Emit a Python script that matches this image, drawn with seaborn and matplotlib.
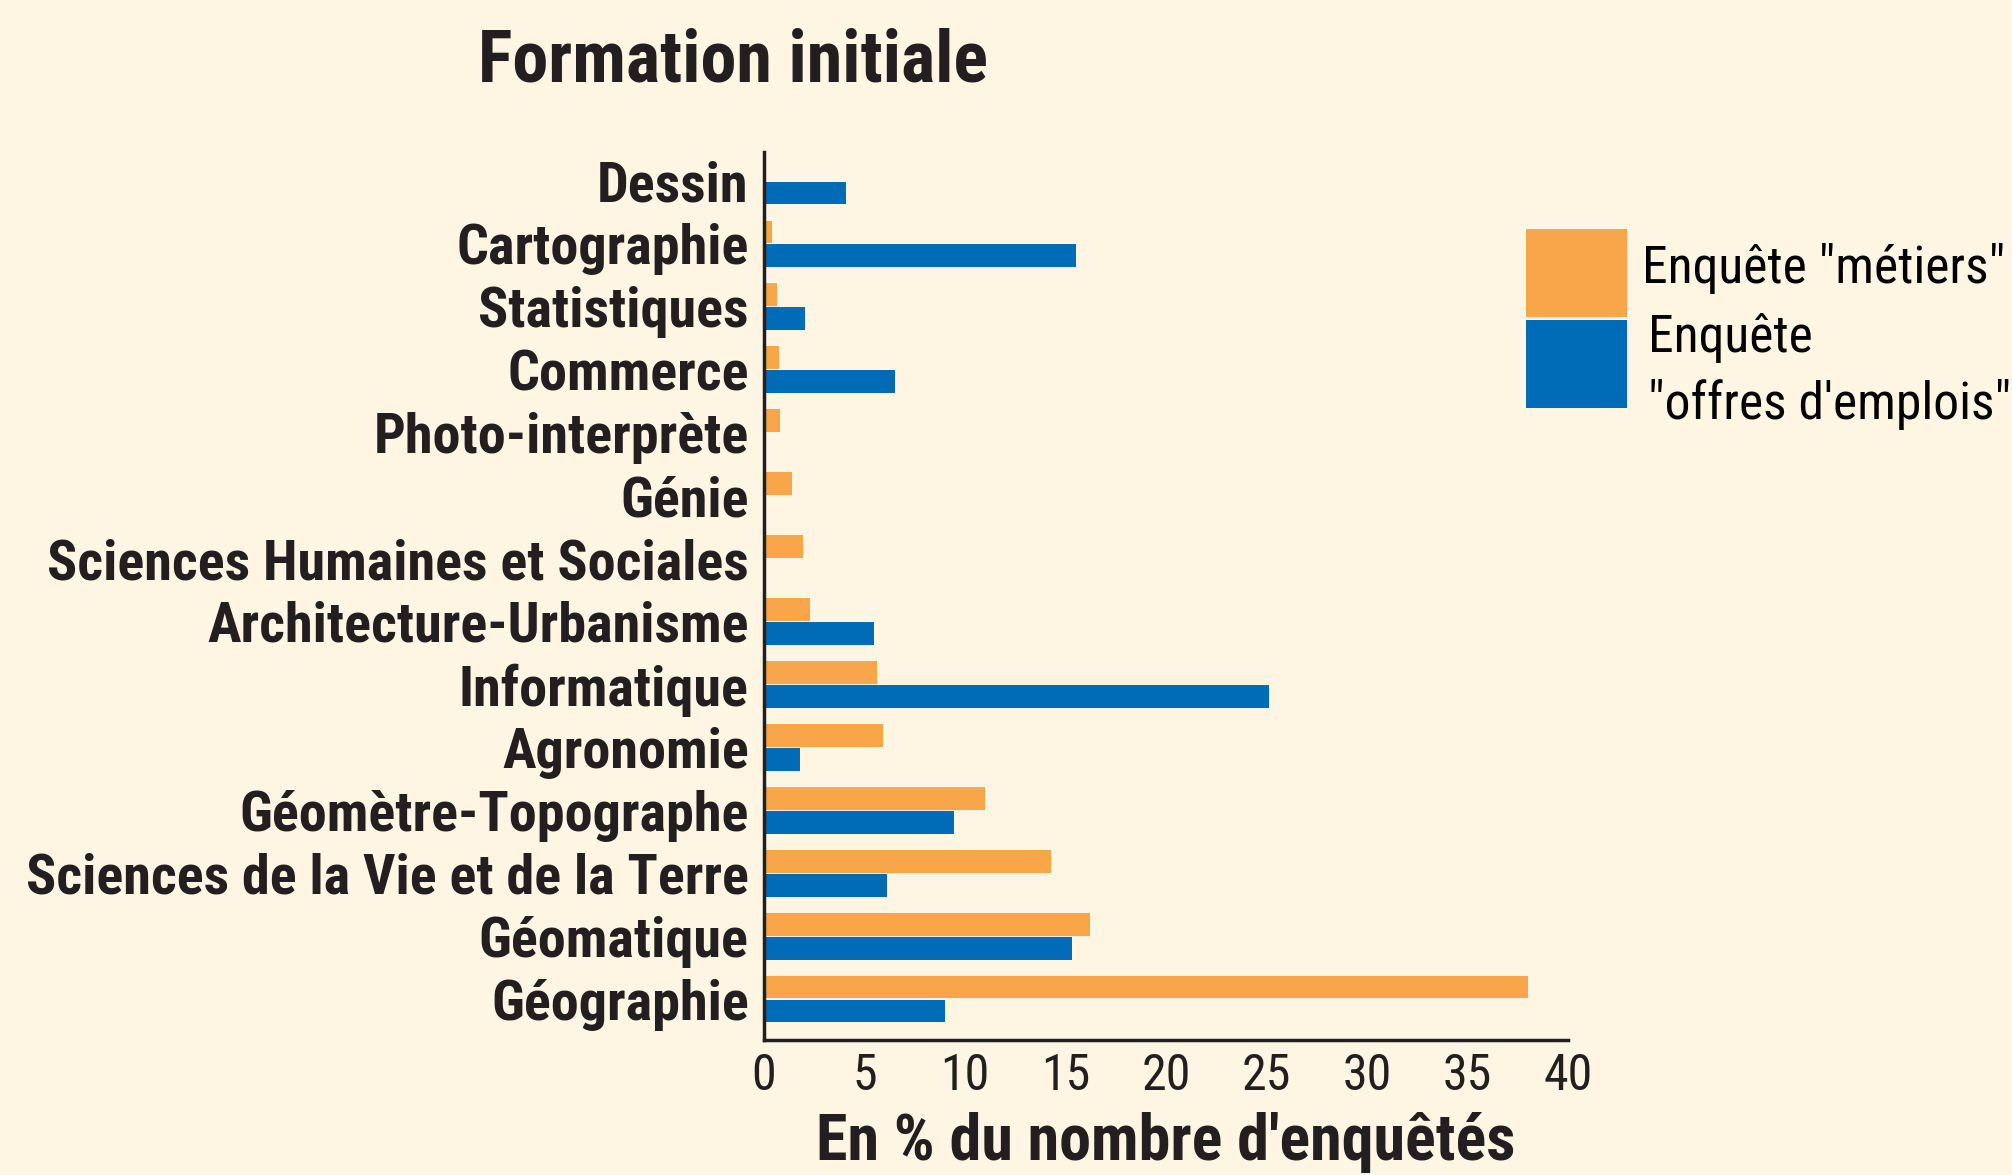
import matplotlib
matplotlib.use("Agg")
import matplotlib.pyplot as plt
from matplotlib import font_manager
from matplotlib.patches import Rectangle
import seaborn as sns
import pandas as pd

categories = ["Dessin", "Cartographie", "Statistiques", "Commerce", "Photo-interprète",
              "Génie", "Sciences Humaines et Sociales", "Architecture-Urbanisme",
              "Informatique", "Agronomie", "Géomètre-Topographe",
              "Sciences de la Vie et de la Terre", "Géomatique", "Géographie"]
metiers = [0, 0.4, 0.65, 0.75, 0.8, 1.4, 1.95, 2.3, 5.6, 5.9, 11.0, 14.3, 16.2, 38.0]
offres = [4.1, 15.5, 2.05, 6.5, 0, 0, 0, 5.45, 25.1, 1.8, 9.45, 6.1, 15.3, 9.0]
series_names = ['Enquête "métiers"', 'Enquête "offres d\'emplois"']
xticks = [0, 5, 10, 15, 20, 25, 30, 35, 40]

BG = "#FEF5E2"
ORANGE = "#F9A54A"
BLUE = "#006BB6"
INK = "#231F20"

avail = {f.name for f in font_manager.fontManager.ttflist}
narrow = "DejaVu Sans"
for cand in ["Liberation Sans Narrow", "Roboto Condensed", "Open Sans Condensed",
             "DejaVu Sans Condensed", "Liberation Sans"]:
    if cand in avail:
        narrow = cand
        break

sns.set_theme(style="white")
plt.rcParams["font.family"] = [narrow, "DejaVu Sans"]

df = pd.DataFrame({
    "cat": categories * 2,
    "val": metiers + offres,
    "serie": [series_names[0]] * len(categories) + [series_names[1]] * len(categories),
})

W, H = 2012, 1175
fig = plt.figure(figsize=(W / 100, H / 100), dpi=100, facecolor=BG)
renderer = fig.canvas.get_renderer()


def fit_size(text, target_px, weight="normal", base=40):
    t = fig.text(0, 0, text, fontsize=base, fontweight=weight)
    w = t.get_window_extent(renderer).width
    t.remove()
    return base * target_px / w


lab_fs = fit_size("Sciences de la Vie et de la Terre", 722, "bold")
title_fs = fit_size("Formation initiale", 509, "bold")
xlab_fs = fit_size("En % du nombre d'enquêtés", 699, "bold")
leg_fs = min(fit_size(series_names[0], 363), 40)
tick_fs = min(fit_size("40", 50), 36)

ax = fig.add_axes([764 / W, 1 - 1040 / H, (1568 - 764) / W, (1040 - 152) / H])
ax.set_facecolor(BG)

sns.barplot(data=df, y="cat", x="val", hue="serie", order=categories,
            hue_order=series_names, palette=[ORANGE, BLUE], orient="h",
            width=0.762, gap=0.05, linewidth=0, edgecolor="none",
            saturation=1, legend=False, ax=ax)

ax.set_xlim(0, 40)
ax.set_ylim(13.65, -0.46)
ax.set_xticks(xticks)
ax.set_xticklabels([str(t) for t in xticks], fontsize=tick_fs)
ax.set_yticks(range(len(categories)))
ax.set_yticklabels(categories, fontsize=lab_fs, fontweight="bold", color=INK)
ax.tick_params(axis="x", direction="inout", length=16, width=2, color=INK,
               pad=1, labelcolor=INK)
ax.tick_params(axis="y", length=0, pad=11)
ax.set_ylabel("")
ax.set_xlabel("En % du nombre d'enquêtés", fontsize=xlab_fs, fontweight="bold",
              color=INK, labelpad=8)

for s in ["top", "right"]:
    ax.spines[s].set_visible(False)
for s in ["left", "bottom"]:
    ax.spines[s].set_color(INK)
    ax.spines[s].set_linewidth(2.5)

fig.text(733 / W, 1 - 62 / H, "Formation initiale", fontsize=title_fs,
         fontweight="bold", color=INK, ha="center", va="center")

# legend
fig.patches.append(Rectangle((1526 / W, 1 - 317 / H), 101 / W, 88 / H,
                             transform=fig.transFigure, color=ORANGE, lw=0))
fig.patches.append(Rectangle((1526 / W, 1 - 408 / H), 101 / W, 88 / H,
                             transform=fig.transFigure, color=BLUE, lw=0))
fig.text(1642 / W, 1 - 268 / H, series_names[0], fontsize=leg_fs, color="black",
         ha="left", va="center")
fig.text(1648 / W, 1 - 338 / H, "Enquête", fontsize=leg_fs, color="black",
         ha="left", va="center")
fig.text(1648 / W, 1 - 404 / H, "\"offres d'emplois\"", fontsize=leg_fs, color="black",
         ha="left", va="center")

fig.savefig("out.png", dpi=100, facecolor=BG)
